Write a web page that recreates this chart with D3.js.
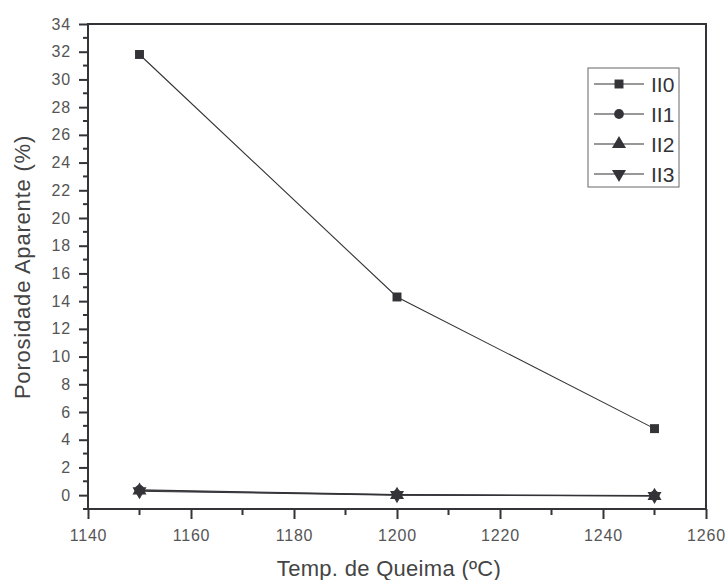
<!DOCTYPE html>
<html>
<head>
<meta charset="utf-8">
<script src="https://cdn.jsdelivr.net/npm/d3@7"></script>
<style>
  html, body { margin: 0; padding: 0; background: #fff; }
  svg { display: block; font-family: "Liberation Sans", Arial, sans-serif; }
</style>
</head>
<body>
<svg id="chart" width="727" height="580"></svg>
<script>
// Firing temperatures (°C)
const temperatures = [1150, 1200, 1250];
// Apparent porosity (%) per composition
const seriesNames = ["II0", "II1", "II2", "II3"];
const porosityII0 = [31.8, 14.3, 4.8];
const porosityII1 = [0.38, 0.04, -0.03];
const porosityII2 = [0.33, 0.02, -0.05];
const porosityII3 = [0.28, 0.0, -0.06];
const xTicks = [1140, 1160, 1180, 1200, 1220, 1240, 1260];
const yTicks = [0, 2, 4, 6, 8, 10, 12, 14, 16, 18, 20, 22, 24, 26, 28, 30, 32, 34];

const series = [
  { name: seriesNames[0], values: porosityII0, symbol: d3.symbolSquare },
  { name: seriesNames[1], values: porosityII1, symbol: d3.symbolCircle },
  { name: seriesNames[2], values: porosityII2, symbol: d3.symbolTriangle },
  { name: seriesNames[3], values: porosityII3, symbol: "triDown" }
];

const svg = d3.select("#chart");
const plotLeft = 88, plotRight = 706, plotTop = 24, plotBottom = 509;
const ink = "#333338";
const textCol = "#555";

const x = d3.scaleLinear().domain([1140, 1260]).range([plotLeft, plotRight]);
const y = d3.scaleLinear().domain([-1, 34]).range([plotBottom, plotTop]);

// frame
svg.append("rect")
  .attr("x", plotLeft).attr("y", plotTop)
  .attr("width", plotRight - plotLeft).attr("height", plotBottom - plotTop)
  .attr("fill", "none").attr("stroke", ink).attr("stroke-width", 2);

// minor ticks
const minorX = d3.range(1150, 1260, 20);
const minorY = d3.range(1, 34, 2).concat([-1]);
svg.append("g").selectAll("line").data(minorX).join("line")
  .attr("x1", d => x(d)).attr("x2", d => x(d))
  .attr("y1", plotBottom).attr("y2", plotBottom + 6)
  .attr("stroke", ink).attr("stroke-width", 2);
svg.append("g").selectAll("line").data(minorY).join("line")
  .attr("y1", d => y(d)).attr("y2", d => y(d))
  .attr("x1", plotLeft).attr("x2", plotLeft - 5)
  .attr("stroke", ink).attr("stroke-width", 2);

// x axis
const xAxis = svg.append("g").attr("transform", `translate(0,${plotBottom})`)
  .call(d3.axisBottom(x).tickValues(xTicks).tickSize(10).tickPadding(11).tickFormat(d3.format("d")));
// y axis
const yAxis = svg.append("g").attr("transform", `translate(${plotLeft},0)`)
  .call(d3.axisLeft(y).tickValues(yTicks).tickSize(9).tickPadding(8).tickFormat(d3.format("d")));

[xAxis, yAxis].forEach(g => {
  g.select(".domain").remove();
  g.selectAll(".tick line").attr("stroke", ink).attr("stroke-width", 2);
  g.selectAll(".tick text").attr("fill", textCol)
    .style("font-size", "16px").style("letter-spacing", "0.8px")
    .style("font-family", "Liberation Sans, Arial, sans-serif");
});

// axis titles
svg.append("text")
  .attr("x", 389).attr("y", 576)
  .attr("text-anchor", "middle").attr("fill", "#444")
  .style("font-size", "22px").style("letter-spacing", "0.3px")
  .text("Temp. de Queima (ºC)");
svg.append("text")
  .attr("transform", `translate(30,267) rotate(-90)`)
  .attr("text-anchor", "middle").attr("fill", "#444")
  .style("font-size", "22px").style("letter-spacing", "0.8px")
  .text("Porosidade Aparente (%)");

// marker helpers
function markerPath(sym, size) {
  if (sym === "triDown") return d3.symbol(d3.symbolTriangle, size)();
  return d3.symbol(sym, size)();
}
function sizeFor(s) {
  if (s.symbol === d3.symbolSquare) return 80;
  if (s.symbol === d3.symbolCircle) return 75;
  return 85;
}
function rotFor(s) { return s.symbol === "triDown" ? " rotate(180)" : ""; }

// lines and markers
const line = d3.line().x((d, i) => x(temperatures[i])).y(d => y(d));
series.forEach(s => {
  svg.append("path").datum(s.values)
    .attr("d", line).attr("fill", "none")
    .attr("stroke", ink).attr("stroke-width", 1.1);
});
series.forEach(s => {
  svg.append("g").selectAll("path").data(s.values).join("path")
    .attr("d", markerPath(s.symbol, sizeFor(s)))
    .attr("transform", (d, i) => `translate(${x(temperatures[i])},${y(d)})${rotFor(s)}`)
    .attr("fill", ink);
});

// legend
const lg = svg.append("g");
lg.append("rect").attr("x", 588).attr("y", 68).attr("width", 91).attr("height", 119)
  .attr("fill", "#fff").attr("stroke", "#666").attr("stroke-width", 1);
series.forEach((s, i) => {
  const cy = 84 + i * 30;
  lg.append("line").attr("x1", 594).attr("x2", 644).attr("y1", cy).attr("y2", cy)
    .attr("stroke", ink).attr("stroke-width", 1.1);
  lg.append("path").attr("d", markerPath(s.symbol, sizeFor(s)))
    .attr("transform", `translate(619,${cy})${rotFor(s)}`).attr("fill", ink);
  lg.append("text").attr("x", 651).attr("y", cy + 8)
    .attr("fill", ink).style("font-size", "21px").text(s.name);
});
</script>
</body>
</html>
